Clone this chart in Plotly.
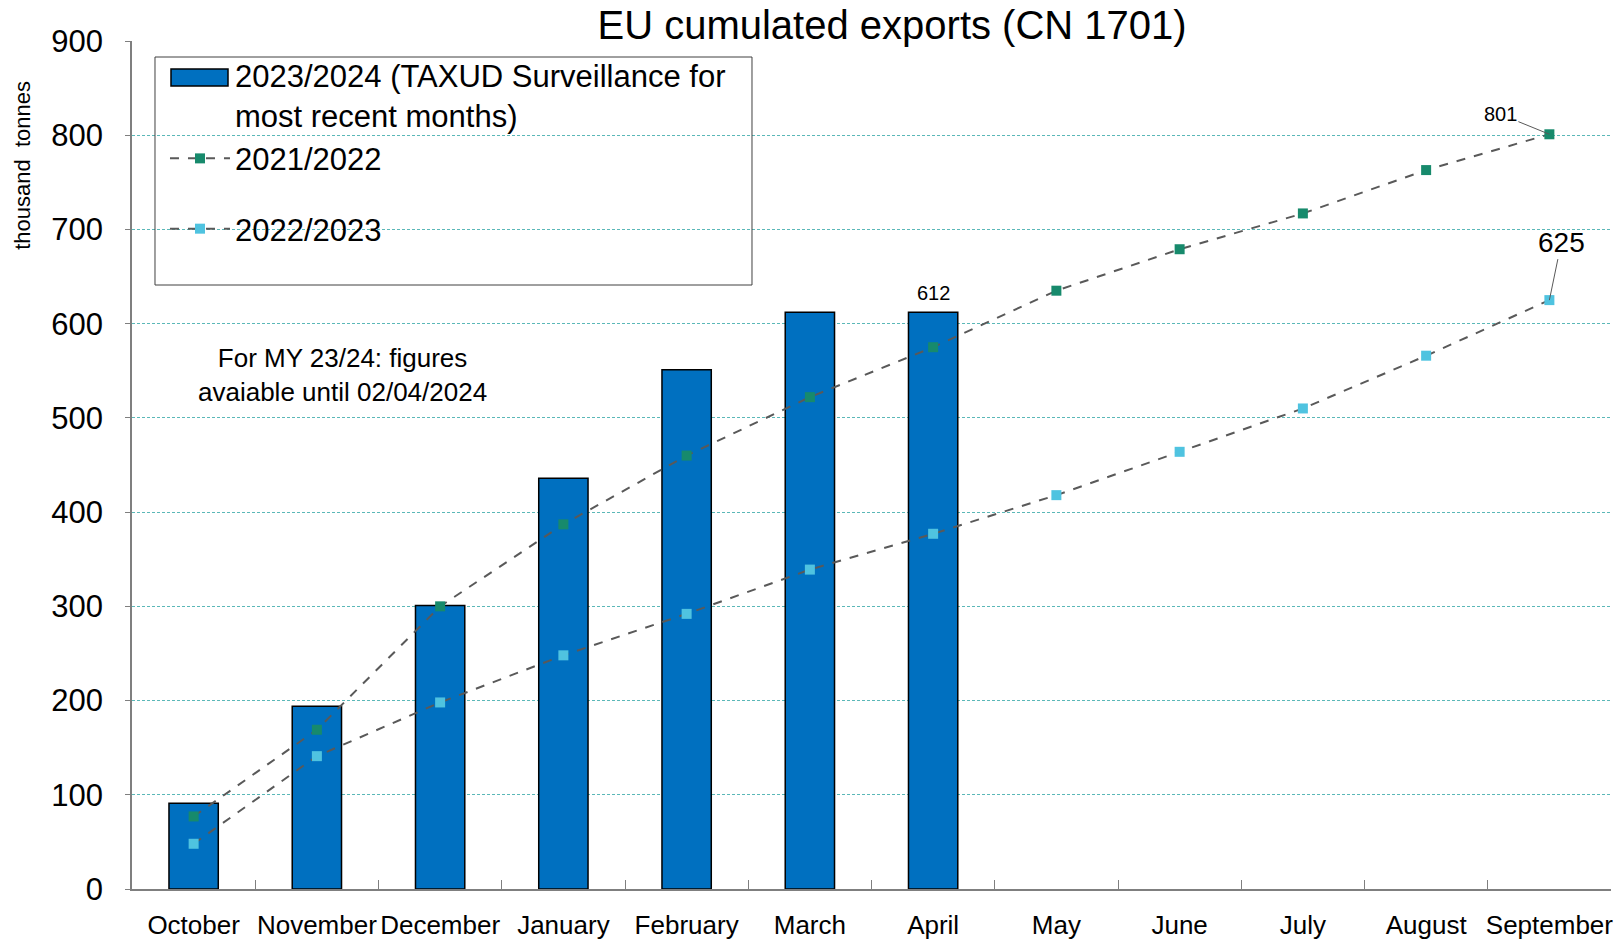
import plotly.graph_objects as go

months = ["October", "November", "December", "January", "February", "March",
          "April", "May", "June", "July", "August", "September"]
my_2324 = [91, 194, 301, 436, 551, 612, 612, None, None, None, None, None]
my_2122 = [77, 169, 300, 387, 460, 522, 575, 635, 679, 717, 763, 801]
my_2223 = [48, 141, 198, 248, 292, 339, 377, 418, 464, 510, 566, 625]
y_ticks = [0, 100, 200, 300, 400, 500, 600, 700, 800, 900]

FONT = "Arial, Liberation Sans, sans-serif"
BAR_BLUE = "#0070C0"

fig = go.Figure()
fig.add_trace(go.Bar(
    x=months, y=my_2324, name="2023/2024",
    marker=dict(color=BAR_BLUE, line=dict(color="#000000", width=1.5)),
    showlegend=False,
))
# legend entry for the bars (symbol drawn as a wide box in the legend frame)
fig.add_trace(go.Scatter(
    x=[None], y=[None], mode="markers",
    name="2023/2024 (TAXUD Surveillance for<br>most recent months)",
    marker=dict(color="rgba(0,0,0,0)", size=1),
    legendgroup="a", hoverinfo="skip",
))
fig.add_trace(go.Scatter(
    x=months, y=my_2122, name="2021/2022", mode="lines+markers",
    line=dict(color="#595959", width=2, dash="dash"),
    marker=dict(symbol="square", size=10, color="#178A6C"),
    legendgroup="a",
))
fig.add_trace(go.Scatter(
    x=months, y=my_2223, name="2022/2023", mode="lines+markers",
    line=dict(color="#595959", width=2, dash="dash"),
    marker=dict(symbol="square", size=10, color="#4FC3E0"),
    legendgroup="b",
))

# legend frame (transparent, as in the source) and bar swatch
fig.add_shape(type="rect", xref="paper", yref="paper",
              x0=0.01555, x1=0.41920, y0=0.71226, y1=0.98113,
              fillcolor="rgba(0,0,0,0)", line=dict(color="#404040", width=1), layer="above")
fig.add_shape(type="rect", xref="paper", yref="paper",
              x0=0.02637, x1=0.06491, y0=0.94693, y1=0.96698,
              fillcolor=BAR_BLUE, line=dict(color="#000000", width=1.5), layer="above")

fig.add_annotation(x=months[6], y=my_2324[6], text=str(my_2324[6]), showarrow=False,
                   yanchor="bottom", yshift=6, font=dict(size=20, color="#000", family=FONT))
fig.add_annotation(x=months[11], y=my_2122[11], text=str(my_2122[11]), showarrow=True,
                   arrowhead=0, arrowwidth=1, arrowcolor="#595959", ax=-49, ay=-20,
                   font=dict(size=20, color="#000", family=FONT))
fig.add_annotation(x=months[11], y=my_2223[11], text=str(my_2223[11]), showarrow=True,
                   arrowhead=0, arrowwidth=1, arrowcolor="#595959", ax=12, ay=-58,
                   font=dict(size=28, color="#000", family=FONT))
fig.add_annotation(xref="paper", yref="paper", x=0.142, y=0.606,
                   xanchor="center", yanchor="middle",
                   text="For MY 23/24: figures<br>avaiable until 02/04/2024",
                   showarrow=False, font=dict(size=26, color="#000", family=FONT))
fig.add_annotation(xref="paper", yref="paper", x=-0.0737, y=0.854,
                   xanchor="center", yanchor="middle",
                   text="thousand  tonnes", textangle=-90, showarrow=False,
                   font=dict(size=22, color="#000", family=FONT))

fig.update_layout(
    width=1619, height=940,
    margin=dict(l=132, r=8, t=41, b=51, autoexpand=False),
    paper_bgcolor="white", plot_bgcolor="white",
    font=dict(family=FONT, color="#000"),
    title=dict(text="EU cumulated exports (CN 1701)", x=0.551, xanchor="center",
               y=0.973, yanchor="middle", font=dict(size=40, color="#000", family=FONT)),
    bargap=0.6,
    showlegend=True,
    legend=dict(
        x=0.0223, y=0.9916, xanchor="left", yanchor="top",
        bgcolor="rgba(0,0,0,0)", borderwidth=0,
        font=dict(size=31, color="#000", family=FONT),
        traceorder="grouped", tracegroupgap=27, itemwidth=60, valign="top",
    ),
    xaxis=dict(
        range=[-0.5, 11.5],
        showline=True, linecolor="#7F7F7F", linewidth=1.5,
        ticks="inside", tickson="boundaries", ticklen=9, tickcolor="#7F7F7F",
        tickangle=0,
        tickfont=dict(size=26, color="#000", family=FONT), ticklabelstandoff=12,
        showgrid=False, automargin=False,
    ),
    yaxis=dict(
        range=[0, 900], tickvals=y_ticks, showline=True, linecolor="#7F7F7F",
        linewidth=1.5, ticks="outside", ticklen=5, tickcolor="#7F7F7F",
        tickfont=dict(size=31, color="#000", family=FONT), ticklabelstandoff=16,
        showgrid=True, gridcolor="#5BB8B8", gridwidth=1, griddash="3px,2px",
        zeroline=False, automargin=False,
    ),
)

fig.write_html("out.html", config={"displayModeBar": False},
               post_script="document.body.style.margin='0px';")
